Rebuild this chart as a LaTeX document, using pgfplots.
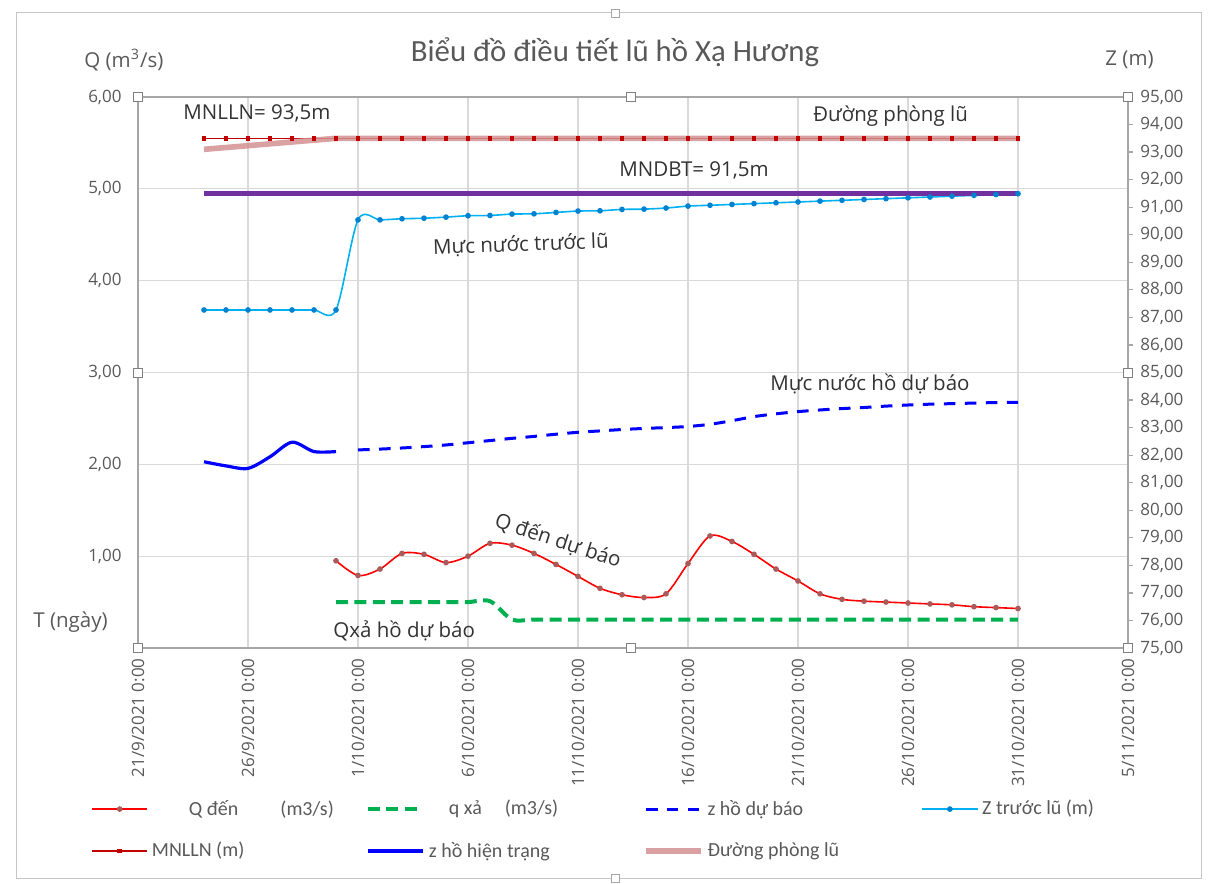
\documentclass[border=0pt]{standalone}
\usepackage{fontspec}
\setmainfont{Open Sans}
\newfontfamily\calibri{Carlito}
\usepackage{pgfplots}
\pgfplotsset{compat=1.18}

\definecolor{qden}{RGB}{255,0,0}
\definecolor{qdenmark}{RGB}{170,90,90}
\definecolor{qxa}{RGB}{0,176,80}
\definecolor{zblue}{RGB}{0,0,255}
\definecolor{ztruoc}{RGB}{0,176,240}
\definecolor{ztruocmark}{RGB}{0,130,210}
\definecolor{mnlln}{RGB}{192,0,0}
\definecolor{phonglu}{RGB}{210,145,145}
\definecolor{mndbt}{RGB}{112,48,160}
\definecolor{gridc}{RGB}{217,217,217}
\definecolor{axisc}{RGB}{166,166,166}
\definecolor{txt}{RGB}{89,89,89}

\pgfplotsset{
  chart/.style={
    scale only axis, width=495pt, height=275.5pt,
    xmin=0, xmax=45,
    axis line style={axisc, line width=0.6pt},
    tick label style={font=\fontsize{8.5}{10}\selectfont, text=txt},
    /pgf/number format/.cd, assume math mode=true, fixed, fixed zerofill, precision=2, use comma, 1000 sep={},
  },
}

% days counted from 21/9/2021
\pgfplotstableread{
d q
9  0.95
10 0.79
11 0.86
12 1.03
13 1.02
14 0.93
15 1.00
16 1.14
17 1.12
18 1.03
19 0.91
20 0.78
21 0.65
22 0.58
23 0.55
24 0.59
25 0.92
26 1.22
27 1.16
28 1.02
29 0.86
30 0.73
31 0.59
32 0.53
33 0.51
34 0.50
35 0.49
36 0.48
37 0.47
38 0.45
39 0.44
40 0.43
}\qden

\pgfplotstableread{
d q
9  0.50
10 0.50
11 0.50
12 0.50
13 0.50
14 0.50
15 0.50
16 0.51
17 0.31
18 0.31
20 0.31
25 0.31
30 0.31
35 0.31
40 0.31
}\qxa

\pgfplotstableread{
d z
10 82.19
11 82.22
12 82.26
13 82.31
14 82.37
15 82.45
16 82.53
17 82.61
18 82.68
19 82.76
20 82.83
21 82.88
22 82.93
23 82.97
24 83.00
25 83.04
26 83.12
27 83.25
28 83.40
29 83.50
30 83.58
31 83.64
32 83.69
33 83.73
34 83.78
35 83.82
36 83.85
37 83.87
38 83.89
39 83.91
40 83.92
}\zdubao

\pgfplotstableread{
d z
3  87.27
4  87.27
5  87.27
6  87.27
7  87.27
8  87.27
9  87.27
10 90.54
11 90.54
12 90.58
13 90.60
14 90.64
15 90.69
16 90.70
17 90.75
18 90.76
19 90.81
20 90.86
21 90.87
22 90.92
23 90.93
24 90.97
25 91.04
26 91.07
27 91.10
28 91.13
29 91.16
30 91.19
31 91.22
32 91.25
33 91.28
34 91.31
35 91.34
36 91.37
37 91.40
38 91.43
39 91.46
40 91.49
}\ztruoc

\pgfplotstableread{
d z
3 81.76
4 81.61
5 81.52
6 81.94
7 82.47
8 82.13
9 82.13
}\zhientrang

\begin{document}
\begin{tikzpicture}
\useasboundingbox (-69pt,-117.5pt) rectangle (535pt,324pt);
\draw[gray!45, line width=0.5pt] (-60.5pt,-115pt) rectangle (531.5pt,317.5pt);

\begin{axis}[chart,
  ymin=0, ymax=6, ytick={1,2,3,4,5,6},
  xtick={0,5,...,45},
  xticklabels={21/9/2021 0:00,26/9/2021 0:00,1/10/2021 0:00,6/10/2021 0:00,11/10/2021 0:00,16/10/2021 0:00,21/10/2021 0:00,26/10/2021 0:00,31/10/2021 0:00,5/11/2021 0:00},
  xticklabel style={rotate=90, anchor=east, inner sep=0pt},
  xticklabel shift=5pt,
  yticklabel style={anchor=east, inner sep=0pt},
  yticklabel shift=8pt,
  major tick length=0pt,
  xmajorgrids, ymajorgrids,
  grid style={gridc, line width=0.6pt},
]
\addplot[qden, line width=0.8pt, smooth, mark=*, mark size=1pt,
  mark options={fill=qdenmark, draw=qdenmark}] table[x=d,y=q]{\qden};
\addplot[qxa, line width=2pt, dash pattern=on 6pt off 3.2pt, smooth] table[x=d,y=q]{\qxa};
\end{axis}

\begin{axis}[chart,
  axis y line*=right, axis x line=none,
  ymin=75, ymax=95, ytick={75,76,...,95},
  ytick style={axisc, line width=0.6pt},
  major tick length=2.5pt, tick align=outside,
  yticklabel style={anchor=west, inner sep=0pt},
  yticklabel shift=3.5pt,
  legend columns=4,
  legend cell align=left,
  legend image code/.code={\draw[mark repeat=2,mark phase=2,#1] plot coordinates {(0pt,0pt) (13.75pt,0pt) (27.5pt,0pt)};},
  legend style={at={(axis description cs:-0.0475,-0.268)}, anchor=north west,
    draw=none, fill=none, inner sep=0pt,
    font=\calibri\fontsize{10}{12}\selectfont, text=txt,
    row sep=8pt},
]
\addlegendimage{qden, line width=0.8pt, mark=*, mark size=1pt, mark options={fill=qdenmark, draw=qdenmark}}
\addlegendimage{qxa, line width=2pt, dash pattern=on 6pt off 3.2pt}
\addplot[zblue, line width=1.5pt, dash pattern=on 5.8pt off 4.7pt, smooth] table[x=d,y=z]{\zdubao};
\addplot[ztruoc, line width=0.8pt, smooth, mark=*, mark size=1pt,
  mark options={fill=ztruocmark, draw=ztruocmark}] table[x=d,y=z]{\ztruoc};
\addplot[mnlln, line width=0.8pt, mark=square*, mark size=0.7pt] coordinates {
  (3,93.5) (4,93.5) (5,93.5) (6,93.5) (7,93.5) (8,93.5) (9,93.5) (10,93.5)
  (11,93.5) (12,93.5) (13,93.5) (14,93.5) (15,93.5) (16,93.5) (17,93.5) (18,93.5)
  (19,93.5) (20,93.5) (21,93.5) (22,93.5) (23,93.5) (24,93.5) (25,93.5) (26,93.5)
  (27,93.5) (28,93.5) (29,93.5) (30,93.5) (31,93.5) (32,93.5) (33,93.5) (34,93.5)
  (35,93.5) (36,93.5) (37,93.5) (38,93.5) (39,93.5) (40,93.5)};
\addplot[zblue, line width=1.6pt, smooth] table[x=d,y=z]{\zhientrang};
\addplot[phonglu, line width=2.8pt, opacity=0.85] coordinates {(3,93.1) (9,93.5) (40,93.5)};
\addplot[mndbt, line width=2.5pt, forget plot] coordinates {(3,91.5) (40,91.5)};
\legend{
  \makebox[105pt][l]{\hspace*{18.5pt}Q đến\hspace{21pt}(m3/s)},
  \makebox[105pt][l]{\hspace*{10pt}q xả\hspace{11.5pt}(m3/s)},
  \makebox[105pt][l]{z hồ dự báo},
  \makebox[105pt][l]{Z trước lũ (m)},
  \makebox[105pt][l]{MNLLN (m)},
  \makebox[105pt][l]{z hồ hiện trạng},
  \makebox[105pt][l]{Đường phòng lũ}}
\end{axis}

% selection handles of the plot area
\foreach \hx/\hy in {0/0,246.5/0,495/0,0/137.5,495/137.5,0/275.5,246.5/275.5,495/275.5}
  \draw[fill=white, draw=gray, line width=0.4pt] (\hx pt-2.2pt,\hy pt-2.2pt) rectangle ++(4.4pt,4.4pt);
\foreach \hx/\hy in {238.5/317.5,238.5/-115}
  \draw[fill=white, draw=gray!70, line width=0.4pt] (\hx pt-2pt,\hy pt-2pt) rectangle ++(4pt,4pt);

% titles
\node[text=txt, font=\calibri\fontsize{15.4}{18}\selectfont] at (238.5pt,298pt) {Biểu đồ điều tiết lũ hồ Xạ Hương};
\begin{scope}[every node/.style={font=\fontsize{10.25}{12}\selectfont, text=txt, inner sep=0pt}]
\node[anchor=west] at (-27pt,294pt) {Q (m\textsuperscript{3}/s)};
\node[anchor=west] at (483.5pt,294pt) {Z (m)};
\node[anchor=west] at (-52.5pt,13pt) {T (ngày)};
\end{scope}

% annotations
\begin{scope}[every node/.style={font=\fontsize{10.25}{12}\selectfont, text=black!80, inner sep=0pt}]
\node[anchor=west] at (22.5pt,267.5pt) {MNLLN= 93,5m};
\node[anchor=west] at (337.5pt,266pt) {Đường phòng lũ};
\node[anchor=west] at (240.5pt,239pt) {MNDBT= 91,5m};
\node[rotate=2] at (191.5pt,201.5pt) {Mực nước trước lũ};
\node[anchor=west] at (316pt,132pt) {Mực nước hồ dự báo};
\node[rotate=-18] at (210pt,53.5pt) {Q đến dự báo};
\node[anchor=west] at (97.5pt,8.5pt) {Qxả hồ dự báo};
\end{scope}
\end{tikzpicture}
\end{document}
